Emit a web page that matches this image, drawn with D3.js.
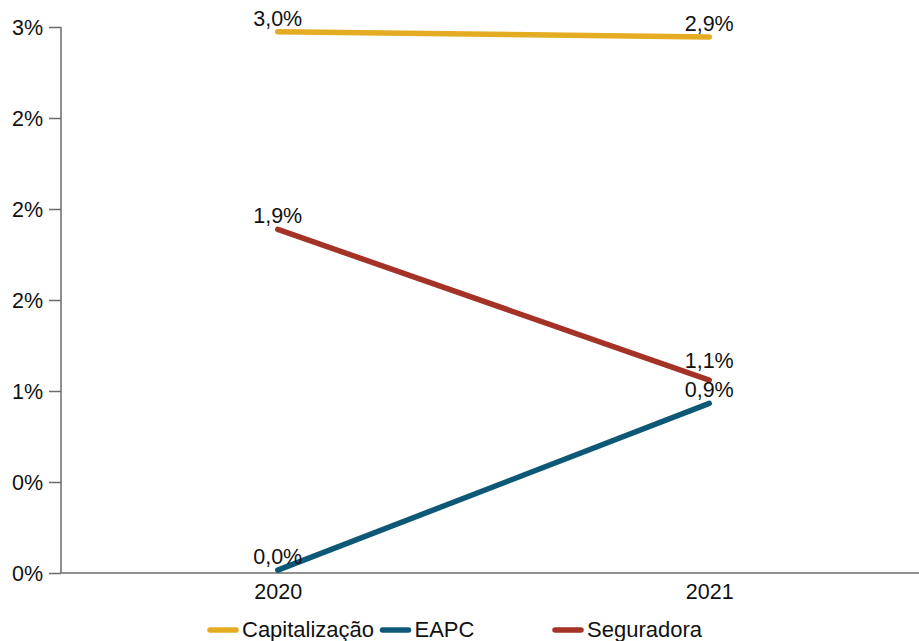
<!DOCTYPE html>
<html><head><meta charset="utf-8">
<script src="https://cdn.jsdelivr.net/npm/d3@7"></script>
<style>html,body{margin:0;padding:0;background:#fff;}svg{display:block;font-family:"Liberation Sans",Arial,sans-serif;}</style>
</head><body>
<svg id="chart" width="919" height="641"></svg>
<script>
const years = ["2020", "2021"];
const seriesNames = ["Capitalização", "EAPC", "Seguradora"];
const seriesColors = ["#E3AC22", "#0D5877", "#A53226"];
const capitalizacao = [2.974, 2.945];
const eapc = [0.016, 0.932];
const seguradora = [1.888, 1.06];
const tickValues = [0, 0.5, 1, 1.5, 2, 2.5, 3];
const tickLabels = ["0%", "0%", "1%", "2%", "2%", "2%", "3%"];

const seriesValues = [capitalizacao, eapc, seguradora];
const series = seriesNames.map((n, i) => ({name: n, color: seriesColors[i], values: seriesValues[i]}));

const svg = d3.select("#chart");
const mLeft = 61, mRight = 919, mTop = 27, mBottom = 573;
const x = d3.scalePoint().domain(years).range([62, 925]).padding(0.5);
const y = d3.scaleLinear().domain([0, 3]).range([mBottom, mTop]);
const loc = d3.formatLocale({decimal: ",", thousands: ".", grouping: [3], currency: ["", ""]});
const fmt = v => loc.format(".1f")(v) + "%";

// y axis
const yAxis = d3.axisLeft(y).tickValues(tickValues).tickFormat((d, i) => tickLabels[i]).tickSize(12).tickPadding(6);
const gy = svg.append("g").attr("transform", `translate(${mLeft},0)`).call(yAxis);
gy.select(".domain").attr("stroke", "#6b6b6b").attr("stroke-width", 1.5).attr("d", `M0,${mBottom}V${mTop}`);
gy.selectAll(".tick line").attr("stroke", "#6b6b6b").attr("stroke-width", 1.5);
gy.selectAll(".tick text").attr("fill", "#111").style("font-size", "21.5px").style("font-family", '"Liberation Sans",Arial,sans-serif').attr("dy", "0.36em");

// x axis
const xAxis = d3.axisBottom(x).tickSize(0).tickPadding(11);
const gx = svg.append("g").attr("transform", `translate(0,${mBottom})`).call(xAxis);
gx.select(".domain").attr("stroke", "#6b6b6b").attr("stroke-width", 1.5).attr("d", `M${mLeft},0H${mRight}`);
gx.selectAll(".tick text").attr("fill", "#111").style("font-size", "21.5px").style("font-family", '"Liberation Sans",Arial,sans-serif');

// lines
const line = d3.line().x((d, i) => x(years[i])).y(d => y(d));
svg.append("g").selectAll("path").data(series).join("path")
  .attr("d", d => line(d.values))
  .attr("fill", "none").attr("stroke", d => d.color).attr("stroke-width", 5.5).attr("stroke-linecap", "round");

// labels with simple overlap avoidance
const labels = [];
series.forEach(s => s.values.forEach((v, i) => labels.push({x: x(years[i]), y: y(v) - 6, text: fmt(v), yi: i})));
years.forEach((yr, i) => {
  const grp = labels.filter(l => l.yi === i).sort((a, b) => b.y - a.y);
  for (let k = 1; k < grp.length; k++) {
    if (grp[k - 1].y - grp[k].y < 29) grp[k].y = grp[k - 1].y - 29;
  }
});
svg.append("g").selectAll("text").data(labels).join("text")
  .attr("x", d => d.x).attr("y", d => d.y).attr("text-anchor", "middle")
  .attr("fill", "#111").style("font-size", "21.5px").text(d => d.text);

// legend
const lg = svg.append("g").attr("transform", "translate(210,630)");
const items = lg.selectAll("g").data(series).join("g").attr("transform", (d, i) => `translate(${i * 172.5},0)`);
items.append("line").attr("x1", 0).attr("x2", 26).attr("y1", 0).attr("y2", 0)
  .attr("stroke", d => d.color).attr("stroke-width", 5.5).attr("stroke-linecap", "round");
items.append("text").attr("x", 32).attr("y", 7).attr("fill", "#111").style("font-size", "22px").text(d => d.name);
</script>
</body></html>
